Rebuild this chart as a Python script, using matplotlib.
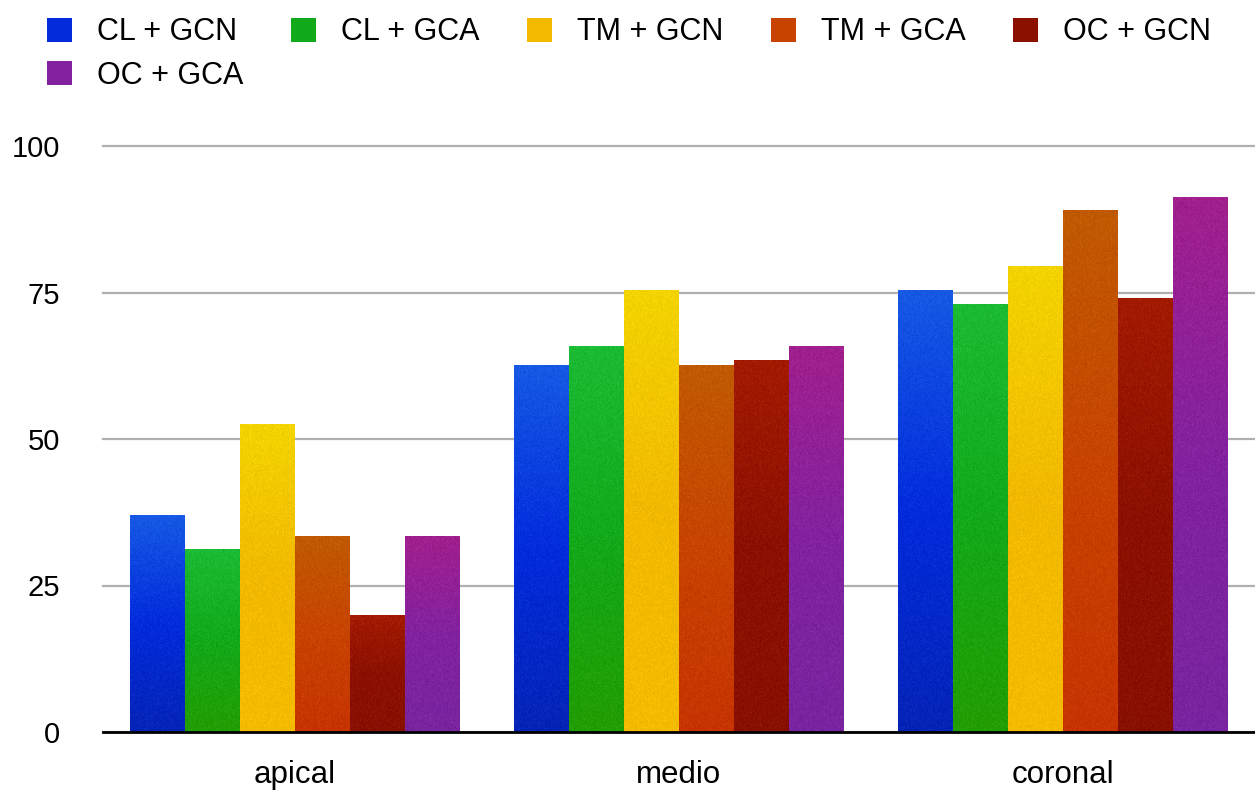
import numpy as np
import matplotlib
matplotlib.use("Agg")
import matplotlib.pyplot as plt
from matplotlib.colors import LinearSegmentedColormap

plt.rcParams['font.family'] = ['Liberation Sans', 'DejaVu Sans']

# --- data ---
regions = ['apical', 'medio', 'coronal']
methods = ['CL + GCN', 'CL + GCA', 'TM + GCN', 'TM + GCA', 'OC + GCN', 'OC + GCA']
cl_gcn = [37.0, 62.6, 75.4]
cl_gca = [31.2, 65.8, 73.0]
tm_gcn = [52.5, 75.4, 79.4]
tm_gca = [33.4, 62.6, 89.0]
oc_gcn = [19.8, 63.4, 74.0]
oc_gca = [33.4, 65.8, 91.2]
series = [cl_gcn, cl_gca, tm_gcn, tm_gca, oc_gcn, oc_gca]
yticks = [0, 25, 50, 75, 100]

# top / middle / bottom colour of each bar's gradient
grads = [
    ('#1659e4', '#022bdc', '#0524b6'),
    ('#1cbb34', '#12a91a', '#239d02'),
    ('#f3d400', '#f2b900', '#f4bb00'),
    ('#c05a00', '#c84300', '#c63400'),
    ('#a31a00', '#8c1000', '#881000'),
    ('#a11f8e', '#8222a0', '#7924a0'),
]

fig = plt.figure(figsize=(12.55, 7.91), dpi=100)
ax = fig.add_axes([103 / 1255, 59 / 791, 1152 / 1255, 586 / 791])

n = len(series)
group_w = 330 / 384
bar_w = group_w / n
x = np.arange(len(regions))

rng = np.random.default_rng(3)
handles = []
for i, (vals, g) in enumerate(zip(series, grads)):
    offs = x - group_w / 2 + bar_w * (i + 0.5)
    bars = ax.bar(offs, vals, bar_w, color=g[1], label=methods[i], zorder=2)
    handles.append(bars)
    cmap = LinearSegmentedColormap.from_list(f'g{i}', [g[2], g[1], g[0]])
    for b in bars:
        h = b.get_height()
        rows = max(int(h * 6), 2)
        ramp = np.linspace(0, 1, rows)[:, None] * np.ones((1, 55))
        img = cmap(ramp)[..., :3]
        img = np.clip(img + rng.normal(0, 0.018, img.shape[:2])[..., None], 0, 1)
        ax.imshow(img, extent=(b.get_x(), b.get_x() + b.get_width(), 0, h),
                  origin='lower', aspect='auto', interpolation='bilinear', zorder=3)

ax.set_xlim(-0.5, len(regions) - 0.5)
ax.set_ylim(0, 100)
ax.set_yticks(yticks)
ax.set_xticks(x)
ax.set_xticklabels(regions)
ax.tick_params(axis='y', length=0, pad=31, labelsize=21)
ax.tick_params(axis='x', length=0, pad=20, labelsize=22.5)

ax.yaxis.grid(True, color='#b0b0b0', linewidth=1.6, zorder=1)
for gl in ax.get_ygridlines():
    gl.set_clip_on(False)
ax.set_axisbelow(True)

for s in ['top', 'right', 'left']:
    ax.spines[s].set_visible(False)
ax.spines['bottom'].set_color('black')
ax.spines['bottom'].set_linewidth(2.0)
ax.spines['bottom'].set_zorder(5)

# legend fills column-wise, so reorder to read left-to-right across rows
order = [0, 5, 1, 2, 3, 4]
ax.legend([handles[k] for k in order], [methods[k] for k in order],
          loc='upper left', bbox_to_anchor=(35 / 1255, 1 - 5 / 791),
          bbox_transform=fig.transFigure, ncol=5, frameon=False, fontsize=22,
          handlelength=0.82, handleheight=0.82, handletextpad=0.82,
          columnspacing=1.55, labelspacing=0.45, borderaxespad=0)

fig.savefig('out.png', dpi=100)
